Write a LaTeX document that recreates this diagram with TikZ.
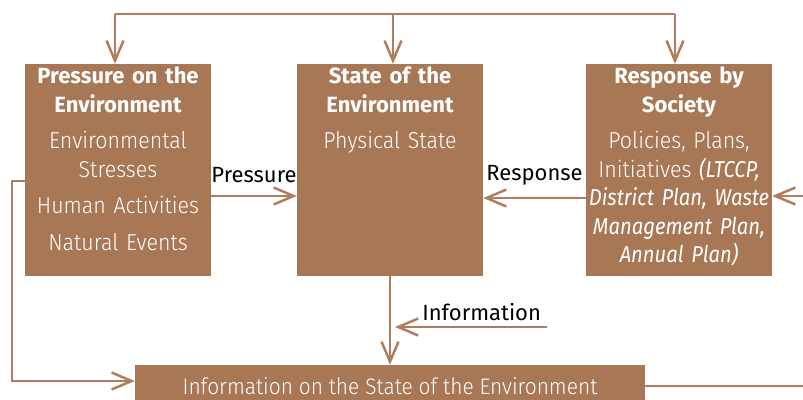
\documentclass[tikz,border=0pt]{standalone}
\usepackage{fontspec}
\setmainfont{Fira Sans}
\newfontfamily\lightfont{Fira Sans Light}[FakeStretch=0.93]
\newfontfamily\itfont{Fira Sans}[FakeStretch=0.88]
\usetikzlibrary{positioning,arrows.meta}
\definecolor{clay}{HTML}{A87756}
\definecolor{clayline}{HTML}{B07D5E}
\newcommand{\headfont}{\fontsize{22}{28.5}\selectfont\rmfamily\bfseries}

\begin{document}
\begin{tikzpicture}[x=1pt,y=-1pt,node distance=272pt,on grid,auto,
  box/.style={rectangle,fill=clay,minimum width=186pt,minimum height=212pt,inner sep=0pt},
  boxtext/.style={anchor=north,text=white,align=center,text width=190pt,inner sep=0pt,font=\fontsize{23}{28.5}\lightfont},
  flow/.style={draw=clayline,line width=2.5pt,-{Straight Barb[length=20pt,width=17pt,line width=2.5pt]}},
  wire/.style={draw=clayline,line width=2.5pt},
  tag/.style={anchor=base,text=black,font=\fontsize{22}{24}\selectfont}]
\useasboundingbox (0,0) rectangle (803,399);
\node[box](b_p) at (118,170){};
\node[box](b_s)[right=of b_p]{};
\node[box](b_r)[right=of b_s,xshift=17pt]{};
\node[box,minimum width=510pt,minimum height=40pt](b_i)[below=215pt of b_s]{};
\node[boxtext](t_p) at ([yshift=-3pt]b_p.north){{\headfont Pressure on the\\ Environment}\\[8pt]
  Environmental\\ Stresses\\[8pt] Human Activities\\[8pt] Natural Events};
\node[boxtext](t_s) at ([yshift=-3pt]b_s.north){{\headfont State of the\\ Environment}\\[8pt]
  Physical State};
\node[boxtext](t_r) at ([yshift=-3pt]b_r.north){{\headfont Response by\\ Society}\\[8pt]
  Policies, Plans,\\ Initiatives {\itfont\itshape (LTCCP,\\ District Plan, Waste\\
  Management Plan,\\ Annual Plan)}};
\node[text=white,font=\fontsize{22.5}{24}\lightfont](t_i) at ([yshift=-1pt]b_i.center){Information on the State of the Environment};
\node[coordinate](c_1) at (115,14){};
\node[coordinate](c_2) at (393,14){};
\node[coordinate](c_3) at (675,14){};
\node[coordinate](c_4) at (12,181){};
\node[coordinate](c_5) at (12,381){};
\node[coordinate](c_6) at (803,386){};
\node[coordinate](c_7) at (803,196){};
\node[coordinate](c_8) at (0,196){};
\node[coordinate](c_9) at (0,198){};
\node[coordinate](c_10) at (547,327){};
\node[coordinate](c_11) at (395,327){};
% feedback along the top
\draw[wire] (c_1) -- (c_3);
\draw[flow] (c_1) -- (c_1 |- b_p.north);
\draw[flow] (c_2) -- (c_2 |- b_s.north);
\draw[flow] (c_3) -- (c_3 |- b_r.north);
\draw[flow] (b_p.west |- c_4) -- (c_4) -- (c_5) -- (b_i.west |- c_5);
\draw[wire] (b_i.east |- c_6) -- (c_6);
\draw[flow] (c_7) -- (c_7 -| b_r.east);
% pressure and response
\draw[flow] (b_p.east |- c_8) -- (b_s.west |- c_8)node[tag,midway,yshift=14pt] {Pressure};
\draw[flow] (b_r.west |- c_9) -- (b_s.east |- c_9)node[tag,midway,yshift=18pt] {Response};
% information
\draw[flow] (b_s.south) -- (b_i.north);
\draw[flow] (c_10) -- (c_11)node[tag,pos=0.43,yshift=7pt] {Information};
\end{tikzpicture}
\end{document}
